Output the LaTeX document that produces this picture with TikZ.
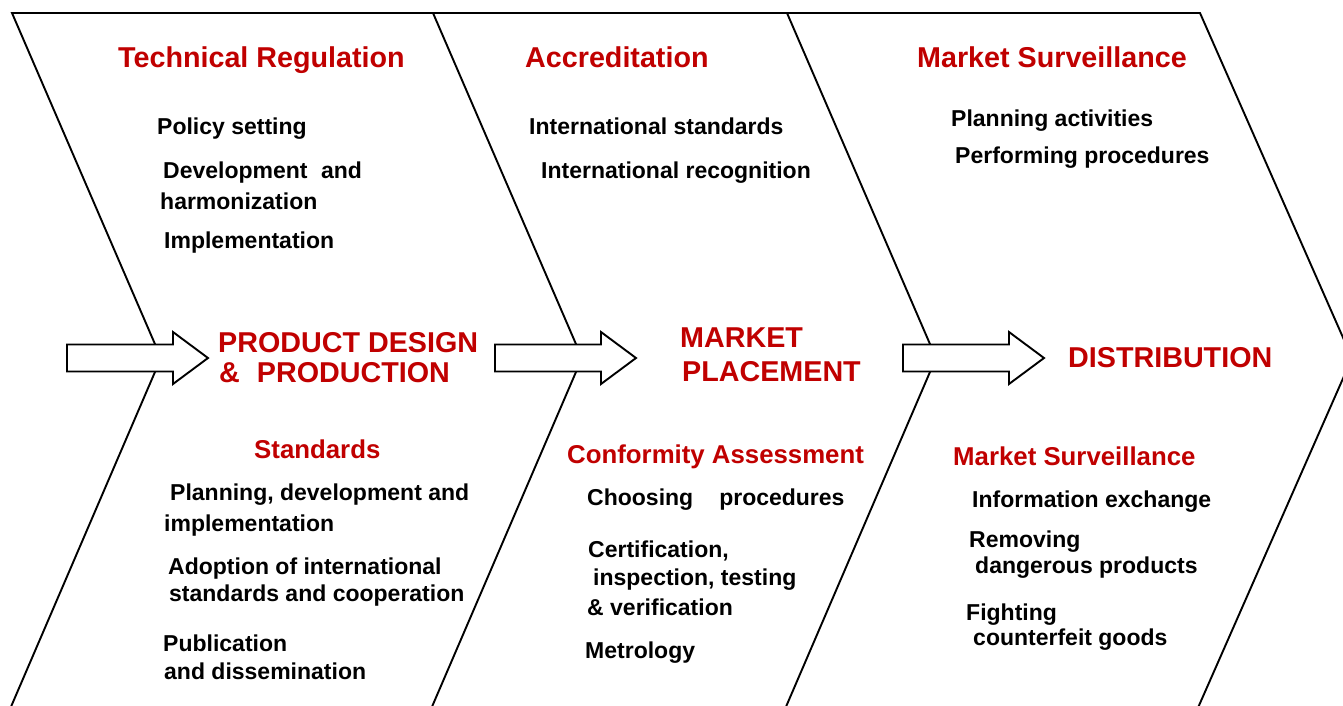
\documentclass[tikz,border=0pt]{standalone}
\usepackage{fontspec}
\setmainfont{Liberation Sans}
\definecolor{titlered}{HTML}{C00000}
\begin{document}
\begin{tikzpicture}[x=1pt,y=-1pt,
  outline/.style={line width=1.9pt, line join=miter},
  blockarrow/.style={draw, fill=white, line width=1.9pt, line join=miter},
  heading/.style={anchor=base west, inner sep=0pt, text=titlered,
    font=\bfseries\fontsize{28.7}{30}\selectfont},
  subheading/.style={anchor=base west, inner sep=0pt, text=titlered,
    font=\bfseries\fontsize{25.8}{28}\selectfont},
  item/.style={anchor=base west, inner sep=0pt,
    font=\bfseries\fontsize{23}{26}\selectfont}]
\useasboundingbox (0,0) rectangle (1343,705);

% chevron outlines (cut off at the page edges)
\begin{scope}
  \clip (0,0) rectangle (1343,705);
  \draw[outline] (9.6,710) -- (161,358) -- (12,13) -- (433,13) -- (582,358) -- (430.6,710);
  \draw[outline] (433,13) -- (787,13) -- (936,358) -- (784.6,710);
  \draw[outline] (787,13) -- (1200,13) -- (1352,358) -- (1197,710);
\end{scope}

% block arrows along the centre line
\foreach \x in {67, 495, 903}{
  \draw[blockarrow] (\x,344.5) -- ++(106,0) -- ++(0,-12.5) -- ++(35,26)
    -- ++(-35,26) -- ++(0,-12.5) -- ++(-106,0) -- cycle;
}

% ---- stage 1: product design & production
\node[heading] (tr) at (118,67.5) {Technical Regulation};
\node[item] (ps) at (157,134) {Policy setting};
\node[item] (dv) at (163,178) {Development\hspace{13.5pt}and};
\node[item] (hm) at (160,209) {harmonization};
\node[item] (im) at (164,248) {Implementation};
\node[heading] (pd1) at (218,352) {PRODUCT DESIGN};
\node[heading] (pd2) at (219,382) {\&\hspace{17pt}PRODUCTION};
\node[subheading] (st) at (254,458) {Standards};
\node[item] (pl1) at (170,500) {Planning, development and};
\node[item] (pl2) at (164,531) {implementation};
\node[item] (ad1) at (168,574) {Adoption of international};
\node[item] (ad2) at (169,601) {standards and cooperation};
\node[item] (pu1) at (163,651) {Publication};
\node[item] (pu2) at (164,679) {and dissemination};

% ---- stage 2: market placement
\node[heading] (ac) at (525,67.5) {Accreditation};
\node[item] (is) at (529,134) {International standards};
\node[item] (ir) at (541,178) {International recognition};
\node[heading] (mp1) at (680,347) {MARKET};
\node[heading] (mp2) at (682,381) {PLACEMENT};
\node[subheading] (ca) at (567,463) {Conformity Assessment};
\node[item] (cp) at (587,505) {Choosing\hspace{26pt}procedures};
\node[item] (ce1) at (588,557) {Certification,};
\node[item] (ce2) at (593,585) {inspection, testing};
\node[item] (ce3) at (587,615) {\& verification};
\node[item] (me) at (585,658) {Metrology};

% ---- stage 3: distribution
\node[heading] (ms1) at (917,67.5) {Market Surveillance};
\node[item] (pa) at (951,126) {Planning activities};
\node[item] (pp) at (955,163) {Performing procedures};
\node[heading] (di) at (1068,367) {DISTRIBUTION};
\node[subheading] (ms2) at (953,465) {Market Surveillance};
\node[item] (ie) at (972,507) {Information exchange};
\node[item] (rd1) at (969,547) {Removing};
\node[item] (rd2) at (975,573) {dangerous products};
\node[item] (fc1) at (966,620) {Fighting};
\node[item] (fc2) at (973,645) {counterfeit goods};
\end{tikzpicture}
\end{document}
